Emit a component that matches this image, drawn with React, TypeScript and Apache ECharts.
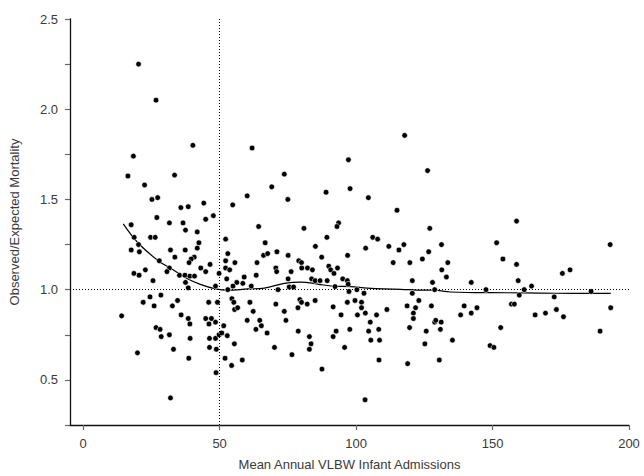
import React, { useEffect, useRef } from "react";
import * as echarts from "echarts";

// Hospitals: [mean annual VLBW admissions, observed/expected mortality]
const hospitalsLowVolume: [number, number][] = [
  [20.3, 2.25], [26.7, 2.05], [40.2, 1.8], [18.4, 1.74], [61.9, 1.785],
  [16.4, 1.63], [33.5, 1.635], [22.5, 1.58], [25.2, 1.5], [27.3, 1.51], [35.8, 1.455], [38.5, 1.46],
  [44.2, 1.48], [60.1, 1.52], [54.8, 1.47], [27.0, 1.4], [31.6, 1.37], [36.6, 1.37], [44.9, 1.39],
  [47.7, 1.41], [64.3, 1.35], [17.6, 1.36], [37.5, 1.33], [41.8, 1.32], [18.7, 1.29], [24.7, 1.29],
  [26.4, 1.29], [52.2, 1.28], [20.3, 1.25], [42.4, 1.26], [17.6, 1.22], [20.6, 1.21], [32.0, 1.22],
  [37.4, 1.22], [41.8, 1.23], [53.0, 1.2], [33.6, 1.18], [40.7, 1.18], [39.6, 1.17], [38.8, 1.15],
  [27.9, 1.16], [52.2, 1.16], [55.6, 1.15], [63.7, 1.15], [46.5, 1.14], [22.8, 1.11], [31.6, 1.12],
  [43.1, 1.12], [52.2, 1.12], [53.7, 1.11], [18.6, 1.09], [20.5, 1.08], [30.7, 1.1], [44.9, 1.1],
  [49.8, 1.09], [35.3, 1.08], [37.3, 1.08], [39.1, 1.075], [40.8, 1.075], [63.4, 1.08], [59.0, 1.07],
  [25.6, 1.05], [37.5, 1.04], [52.6, 1.06], [56.3, 1.04], [58.5, 1.035], [54.9, 1.02], [61.6, 1.02],
  [38.5, 1.01], [48.5, 1.02], [53.0, 1.0], [28.5, 0.97], [24.5, 0.96], [22.0, 0.93], [26.0, 0.91],
  [32.7, 0.91], [34.6, 0.94], [46.0, 0.93], [49.2, 0.93], [54.5, 0.95], [55.2, 0.93], [61.1, 0.93],
  [14.1, 0.855], [35.9, 0.86], [38.5, 0.84], [39.1, 0.81], [44.9, 0.84], [47.0, 0.84], [46.1, 0.81],
  [48.5, 0.82], [51.5, 0.8], [55.5, 0.89], [56.6, 0.9], [62.3, 0.88], [60.1, 0.83], [64.7, 0.83],
  [63.3, 0.78], [65.3, 0.8], [26.7, 0.79], [28.2, 0.78], [28.6, 0.74], [31.6, 0.75], [39.2, 0.73],
  [46.3, 0.73], [48.5, 0.73], [49.8, 0.75], [50.8, 0.76], [52.8, 0.745], [55.4, 0.7], [33.1, 0.67],
  [46.3, 0.68], [48.8, 0.67], [19.9, 0.65], [38.7, 0.62], [52.0, 0.62], [54.4, 0.58], [58.3, 0.61],
  [48.7, 0.54], [32.0, 0.4],
];

const hospitalsMidVolume: [number, number][] = [
  [117.8, 1.855], [97.2, 1.72], [73.7, 1.64], [126.2, 1.66], [69.1, 1.57], [97.8, 1.56], [89.0, 1.54],
  [75.0, 1.5], [104.5, 1.51], [115.0, 1.44], [93.6, 1.37], [93.0, 1.35], [80.9, 1.34], [127.0, 1.34],
  [66.7, 1.26], [89.3, 1.29], [106.1, 1.29], [107.9, 1.28], [131.3, 1.25], [85.1, 1.24], [103.5, 1.23],
  [112.0, 1.24], [117.5, 1.25], [115.7, 1.22], [126.6, 1.21], [66.1, 1.19], [67.6, 1.2], [71.0, 1.21],
  [75.1, 1.19], [96.9, 1.19], [87.4, 1.18], [79.0, 1.16], [80.0, 1.15], [113.6, 1.15], [119.7, 1.15],
  [124.3, 1.17], [133.6, 1.15], [70.6, 1.12], [70.9, 1.1], [80.1, 1.12], [82.2, 1.12], [84.0, 1.11],
  [90.0, 1.13], [90.7, 1.11], [93.2, 1.12], [91.9, 1.09], [76.2, 1.1], [131.4, 1.11], [133.1, 1.07],
  [75.1, 1.06], [83.7, 1.06], [85.0, 1.05], [86.8, 1.05], [89.4, 1.05], [95.1, 1.06], [96.8, 1.05],
  [120.6, 1.05], [75.5, 1.015], [77.1, 1.015], [92.3, 1.017], [97.1, 1.03], [71.4, 1.0], [100.3, 1.0],
  [128.0, 1.04], [128.8, 1.0], [97.4, 0.99], [102.9, 0.98], [120.6, 0.98], [70.6, 0.92], [79.4, 0.945],
  [80.0, 0.93], [82.1, 0.92], [85.0, 0.94], [96.8, 0.93], [99.6, 0.94], [102.0, 0.93], [123.0, 0.94],
  [118.7, 0.91], [127.6, 0.91], [91.6, 0.905], [78.7, 0.9],
  [73.7, 0.88], [74.3, 0.83], [67.4, 0.76], [70.1, 0.68], [76.5, 0.64], [78.8, 0.77], [82.9, 0.74],
  [83.5, 0.7], [82.9, 0.67], [87.5, 0.56], [91.6, 0.74], [92.7, 0.77], [94.5, 0.86], [95.8, 0.68],
  [97.7, 0.78], [100.5, 0.86], [102.0, 0.9], [103.4, 0.87], [103.3, 0.39], [105.2, 0.82], [104.6, 0.77],
  [105.4, 0.72], [107.5, 0.86], [108.3, 0.78], [108.6, 0.72], [108.4, 0.61], [111.3, 0.89], [121.8, 0.9],
  [121.0, 0.87], [121.0, 0.84], [119.6, 0.79], [118.9, 0.59], [125.7, 0.77], [125.2, 0.7], [128.8, 0.82],
  [129.2, 0.83], [131.2, 0.82], [130.9, 0.78], [130.5, 0.61],
];

const hospitalsHighVolume: [number, number][] = [
  [158.8, 1.38], [151.5, 1.26], [193.1, 1.25], [153.8, 1.17], [158.8, 1.14], [142.2, 1.04], [159.4, 1.05],
  [164.3, 1.02], [161.6, 1.0], [159.8, 0.97], [175.6, 1.09], [178.4, 1.11], [147.6, 1.0], [172.6, 0.96],
  [186.1, 0.99], [139.6, 0.91], [144.3, 0.9], [156.9, 0.92], [158.0, 0.92], [193.3, 0.9],
  [135.3, 0.72], [138.3, 0.86], [142.2, 0.87], [149.1, 0.69], [150.5, 0.68], [153.0, 0.79], [165.6, 0.86],
  [169.4, 0.87], [173.4, 0.89], [176.0, 0.85], [189.4, 0.77],
];

// LOESS smoothed fit
const loessX = [14.7, 20.5, 27.9, 32.3, 38.4, 43.2, 48.1, 53.0, 60.3, 66.4, 73.7, 79.8, 85.9, 91.9, 98.0, 104.1, 110.2, 116.3, 122.4, 128.5, 134.6, 143.1, 155.3, 167.4, 179.6, 193.3];
const loessY = [1.365, 1.253, 1.156, 1.116, 1.059, 1.028, 1.006, 0.997, 1.004, 1.009, 1.035, 1.042, 1.031, 1.019, 1.017, 1.009, 1.004, 1.002, 0.998, 0.997, 0.987, 0.984, 0.983, 0.981, 0.98, 0.98];

const xTicks = [0, 50, 100, 150, 200];
const referenceX = 50;
const referenceY = 1.0;

const FONT = "Liberation Sans";
const TEXT = "#3a3a3a";
const TICK = "#666";

export default function App() {
  const ref = useRef<HTMLDivElement>(null);
  useEffect(() => {
    if (!ref.current) return;
    const chart = echarts.init(ref.current, undefined, { renderer: "svg" });
    const points = [...hospitalsLowVolume, ...hospitalsMidVolume, ...hospitalsHighVolume];
    const loess = loessX.map((x, i) => [x, loessY[i]]);
    chart.setOption({
      animation: false,
      backgroundColor: "#fff",
      grid: { left: 68.5, right: 15, top: 19, bottom: 48, containLabel: false },
      xAxis: {
        type: "value",
        min: -4.82,
        max: 200,
        name: "Mean Annual VLBW Infant Admissions",
        nameLocation: "middle",
        nameGap: 33,
        nameTextStyle: { fontFamily: FONT, fontSize: 13, color: TEXT },
        axisLine: { show: true, onZero: false, lineStyle: { color: "#111", width: 1.3 } },
        axisTick: { show: true, length: 5, customValues: xTicks, lineStyle: { color: TICK, width: 1.2 } },
        axisLabel: { customValues: xTicks, margin: 12, fontFamily: FONT, fontSize: 13, color: TEXT },
        splitLine: { show: false },
      },
      yAxis: {
        type: "value",
        min: 0.25,
        max: 2.5,
        interval: 0.25,
        name: "Observed/Expected Mortality",
        nameLocation: "middle",
        nameGap: 49,
        nameTextStyle: { fontFamily: FONT, fontSize: 13, color: TEXT },
        axisLine: { show: true, onZero: false, lineStyle: { color: "#111", width: 1.3 } },
        axisTick: { show: true, length: 5, lineStyle: { color: TICK, width: 1.2 } },
        axisLabel: {
          margin: 12,
          fontFamily: FONT,
          fontSize: 13,
          color: TEXT,
          formatter: (v: number) => (Math.abs(v * 2 - Math.round(v * 2)) < 1e-6 ? v.toFixed(1) : ""),
        },
        splitLine: { show: false },
      },
      series: [
        {
          type: "line",
          data: loess,
          showSymbol: false,
          smooth: 0.4,
          z: 2,
          lineStyle: { color: "#000", width: 1.2 },
          markLine: {
            silent: true,
            symbol: "none",
            label: { show: false },
            lineStyle: { color: "#000", width: 1, type: [1, 2] },
            data: [{ xAxis: referenceX }, { yAxis: referenceY }],
          },
        },
        {
          type: "scatter",
          data: points,
          symbolSize: 5.6,
          z: 3,
          itemStyle: { color: "#000", borderColor: "#fff", borderWidth: 0.6, opacity: 1 },
        },
      ],
    });
    return () => chart.dispose();
  }, []);
  return (
    <div
      ref={ref}
      style={{ position: "fixed", left: 0, top: 0, width: 644, height: 476, background: "#fff" }}
    />
  );
}
